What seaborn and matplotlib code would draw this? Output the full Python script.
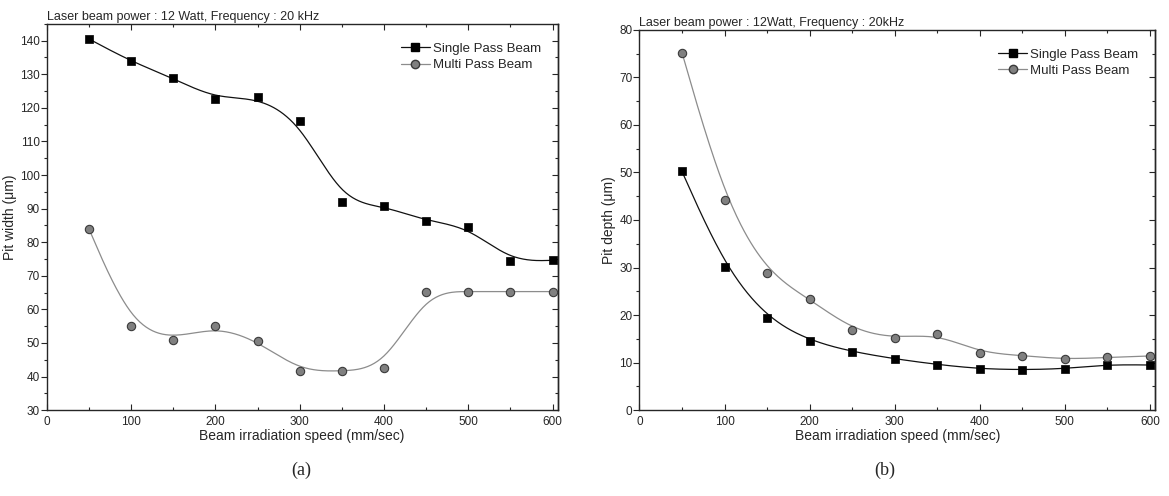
import matplotlib
matplotlib.use("Agg")
import matplotlib.pyplot as plt
from matplotlib.lines import Line2D
from matplotlib.ticker import MultipleLocator
import numpy as np
import pandas as pd
import seaborn as sns

# beam irradiation speed (mm/sec)
speed = [50, 100, 150, 200, 250, 300, 350, 400, 450, 500, 550, 600]

# (a) pit width (um)
width_single = [140.5, 133.8, 128.8, 122.7, 123.2, 116.2, 92.0, 90.8, 86.3, 84.6, 74.3, 74.6]
width_multi = [84.0, 55.0, 51.0, 55.0, 50.7, 41.6, 41.6, 42.5, 65.3, 65.3, 65.3, 65.3]

# (b) pit depth (um)
depth_single = [50.2, 30.2, 19.3, 14.6, 12.3, 10.8, 9.6, 8.7, 8.5, 8.7, 9.6, 9.5]
depth_multi = [75.2, 44.2, 28.8, 23.4, 16.9, 15.1, 16.1, 12.1, 11.5, 10.7, 11.1, 11.4]

titles = ["Laser beam power : 12 Watt, Frequency : 20 kHz",
          "Laser beam power : 12Watt, Frequency : 20kHz"]
ylabels = ["Pit width (\u03bcm)", "Pit depth (\u03bcm)"]
captions = ["(a)", "(b)"]


def bspline(x, y, n=40):
    # uniform cubic B-spline through clamped control points (like Origin's B-spline connect)
    P = np.column_stack([x, y]).astype(float)
    P = np.vstack([P[0], P[0], P, P[-1], P[-1]])
    t = np.linspace(0, 1, n)[:, None]
    b0 = (1 - t) ** 3
    b1 = 3 * t ** 3 - 6 * t ** 2 + 4
    b2 = -3 * t ** 3 + 3 * t ** 2 + 3 * t + 1
    b3 = t ** 3
    segs = [(b0 * P[i] + b1 * P[i + 1] + b2 * P[i + 2] + b3 * P[i + 3]) / 6
            for i in range(len(P) - 3)]
    c = np.vstack(segs)
    return c[:, 0], c[:, 1]


sns.set_style("ticks")
plt.rcParams["font.family"] = ["Liberation Sans", "DejaVu Sans"]
plt.rcParams["xtick.labelsize"] = 8.5
plt.rcParams["ytick.labelsize"] = 8.5

fig = plt.figure(figsize=(11.69, 4.96), dpi=100)
ax_a = fig.add_axes([0.040, 0.173, 0.437, 0.779])
ax_b = fig.add_axes([0.547, 0.173, 0.441, 0.767])

single_c = "#111111"
multi_c = "#8c8c8c"

panels = [
    (ax_a, width_single, width_multi, (30, 145), 10, 5),
    (ax_b, depth_single, depth_multi, (0, 80), 10, 5),
]

for k, (ax, ys, ym, ylim, major, minor) in enumerate(panels):
    df = pd.DataFrame({"speed": speed, "single": ys, "multi": ym})
    sx, sy = bspline(df["speed"], df["single"])
    mx, my = bspline(df["speed"], df["multi"])
    sns.lineplot(x=sx, y=sy, ax=ax, color=single_c, lw=0.9, sort=False, legend=False)
    sns.lineplot(x=mx, y=my, ax=ax, color=multi_c, lw=0.9, sort=False, legend=False)
    sns.scatterplot(data=df, x="speed", y="single", ax=ax, marker="s", s=34,
                    color="black", edgecolor="black", linewidth=0.5, zorder=5)
    sns.scatterplot(data=df, x="speed", y="multi", ax=ax, marker="o", s=36,
                    color="#808080", edgecolor="#3a3a3a", linewidth=0.8, zorder=5)

    ax.set_xlim(0, 606)
    ax.set_ylim(*ylim)
    ax.xaxis.set_major_locator(MultipleLocator(100))
    ax.xaxis.set_minor_locator(MultipleLocator(50))
    ax.yaxis.set_major_locator(MultipleLocator(major))
    ax.yaxis.set_minor_locator(MultipleLocator(minor))
    ax.tick_params(axis="y", which="both", direction="out", left=True, right=False)
    ax.tick_params(axis="y", which="major", length=4, width=0.8, pad=1)
    ax.tick_params(axis="y", which="minor", length=2.5, width=0.8)
    ax.tick_params(axis="x", which="both", direction="in", top=True, bottom=True)
    ax.tick_params(axis="x", which="major", length=4, width=0.8, pad=4)
    ax.tick_params(axis="x", which="minor", length=2.5, width=0.8)
    # mirrored right-side ticks pointing inward
    sec = ax.secondary_yaxis("right")
    sec.yaxis.set_major_locator(MultipleLocator(major))
    sec.yaxis.set_minor_locator(MultipleLocator(minor))
    sec.tick_params(which="both", direction="in", labelright=False, width=0.8)
    sec.tick_params(which="major", length=4)
    sec.tick_params(which="minor", length=2.5)
    for sp in ax.spines.values():
        sp.set_linewidth(1.0)
    sec.spines["right"].set_linewidth(1.0)

    ax.set_xlabel("Beam irradiation speed (mm/sec)", fontsize=10, labelpad=1)
    ax.set_ylabel(ylabels[k], fontsize=10, labelpad=2)
    ax.set_title(titles[k], fontsize=9, loc="left", pad=3)

    handles = [
        Line2D([], [], color=single_c, lw=0.9, marker="s", markersize=6,
               markerfacecolor="black", markeredgecolor="black"),
        Line2D([], [], color=multi_c, lw=0.9, marker="o", markersize=6,
               markerfacecolor="#808080", markeredgecolor="#3a3a3a"),
    ]
    ax.legend(handles, ["Single Pass Beam", "Multi Pass Beam"], loc="upper right",
              bbox_to_anchor=(0.985, 0.975), frameon=False, fontsize=9.5,
              handlelength=2.2, handletextpad=0.2, labelspacing=0.3, borderaxespad=0.3)

fig.text(0.258, 0.052, captions[0], fontsize=13, family=["Liberation Serif", "DejaVu Serif"],
         ha="center", va="center")
fig.text(0.757, 0.052, captions[1], fontsize=13, family=["Liberation Serif", "DejaVu Serif"],
         ha="center", va="center")

fig.savefig("out.png", dpi=100)
